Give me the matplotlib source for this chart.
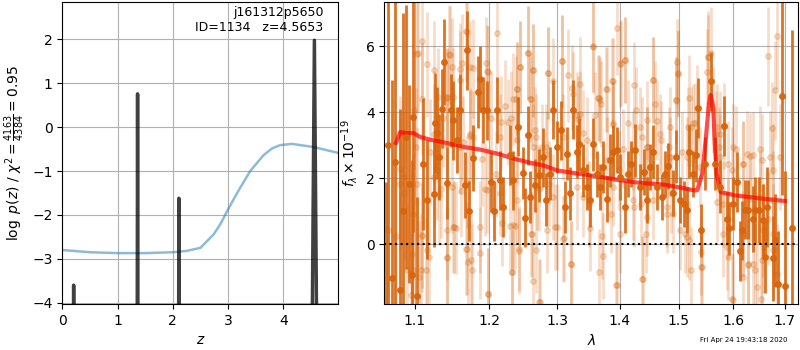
import matplotlib
matplotlib.use("Agg")
import matplotlib.pyplot as plt
from matplotlib.ticker import FixedLocator, FixedFormatter, NullLocator

# --- left panel: redshift fit ---
chi2_z = [0.0, 0.5, 1.0, 1.5, 2.0, 2.25, 2.5, 2.6, 2.74, 2.86, 3.0, 3.2, 3.4,
          3.64, 3.8, 3.94, 4.15, 4.54, 4.99]
chi2_logp = [-2.80, -2.85, -2.87, -2.87, -2.85, -2.82, -2.75, -2.62, -2.44, -2.21,
             -1.87, -1.42, -1.0, -0.64, -0.48, -0.41, -0.38, -0.45, -0.585]

pz_z = [0.200, 0.205, 0.210, 1.355, 1.362, 1.369, 2.104, 2.110, 2.117,
        4.520, 4.562, 4.605]
pz_logp = [-5.0, -3.6, -5.0, -5.0, 0.76, -5.0, -5.0, -1.62, -5.0,
           -5.0, 1.98, -5.0]

# --- right panel: spectrum ---
lam_dark = [1.0632, 1.0660, 1.0704, 1.0745, 1.0810, 1.0845, 1.0886, 1.0923, 1.0958,
            1.0980, 1.1024,
            1.1103, 1.1155, 1.1243, 1.1265, 1.1284, 1.1309, 1.1352, 1.1383, 1.1427,
            1.1477, 1.1509, 1.1555, 1.1601, 1.1669, 1.1692, 1.1728, 1.1783, 1.1851,
            1.1874, 1.1922, 1.1969, 1.2031, 1.2078, 1.2121, 1.2159, 1.2207, 1.2302,
            1.2349, 1.2423, 1.2487, 1.2522, 1.2571, 1.2596, 1.2670, 1.2734, 1.2793,
            1.2833, 1.2894, 1.2946, 1.2997, 1.3058, 1.3125, 1.3161, 1.3202, 1.3243,
            1.3305, 1.3346, 1.3410, 1.3463, 1.3517, 1.3570, 1.3624, 1.3677, 1.3731,
            1.3795, 1.3838, 1.3891, 1.3958, 1.4002, 1.4085, 1.4141, 1.4180, 1.4252,
            1.4335, 1.4402, 1.4446, 1.4504, 1.4562, 1.4631, 1.4706, 1.4764, 1.4822,
            1.4897, 1.4955, 1.5024, 1.5096, 1.5144, 1.5192, 1.5264, 1.5312, 1.5354,
            1.5396, 1.5474, 1.5577, 1.5656, 1.5750, 1.5825, 1.5875, 1.5925, 1.6000,
            1.6063, 1.6125, 1.6156, 1.6219, 1.6283, 1.6380, 1.6413, 1.6497, 1.6562,
            1.6608, 1.6653, 1.6757, 1.6803, 1.6868, 1.6935, 1.7000, 1.7135]
flux_dark = [-3.1, 3.0, -1.03, 2.5, -1.39, 1.0, 3.25, 1.84, -0.94,
             3.86, -1.58,
             2.44, 1.35, 1.52, 3.68, 3.37, 2.65, 4.11, 5.52, 1.86,
             4.06, 3.76, 3.15, 4.06, 1.79, 5.88, 1.01, 2.60, 4.62,
             5.02, 4.06, 4.06, 1.89, 1.01, 4.08, 1.94, 1.13, 2.70,
             1.94, 3.56, 2.16, 0.81, 3.30, 1.43, 1.79, 2.09, 2.63,
             1.35, 2.14, 4.08, 2.95, 3.45, 1.13, 2.75, 1.54, 4.08,
             2.80, 3.03, 2.24, 1.74, 1.33, 3.03, 2.14, 1.74, 2.34,
             1.38, 2.55, 2.80, 2.85, 2.04, 1.13, 2.14, 2.44, 2.85,
             1.74, 2.19, 1.33, 2.34, 2.80, 1.74, 1.43, 2.14, 2.37,
             1.55, 2.65, 1.33, 1.23, 1.03, 2.80, 2.14, 2.70, 4.13,
             0.42, 2.44, 4.94, 2.44, 1.74, 3.58, 0.78, 0.48, 1.23,
             1.89, -0.20, 0.42, 1.05, 1.05, 0.78, 1.03, 1.03, 0.73,
             -0.38, 1.13, -0.43, 0.12, -1.21, 4.48, -1.27, 0.5]
err_dark = [5.0, 6.0, 6.0, 6.0, 5.5, 6.0, 4.0, 3.0, 3.5,
            3.5, 3.0,
            2.0, 1.8, 1.6, 1.5, 1.4, 1.3, 1.2, 1.3, 1.1,
            1.1, 1.2, 1.0, 1.1, 1.0, 1.2, 0.9, 1.0, 1.1,
            1.0, 1.0, 0.9, 0.9, 0.9, 1.0, 0.9, 0.9, 0.9,
            0.9, 0.9, 0.8, 0.9, 0.9, 0.8, 0.8, 0.8, 0.9,
            0.8, 0.8, 0.9, 0.8, 0.9, 0.8, 0.8, 0.8, 0.9,
            0.8, 0.8, 0.8, 0.7, 0.8, 0.8, 0.7, 0.7, 0.8,
            0.7, 0.8, 0.8, 0.7, 0.7, 0.8, 0.7, 0.7, 0.8,
            0.7, 0.7, 0.7, 0.7, 0.8, 0.7, 0.7, 0.7, 0.7,
            0.7, 0.8, 0.7, 0.7, 0.7, 0.8, 0.7, 0.8, 0.9,
            0.8, 0.8, 0.9, 0.8, 0.8, 0.9, 0.8, 0.8, 0.8,
            0.9, 0.9, 0.9, 0.9, 0.9, 1.0, 1.0, 1.0, 1.1,
            1.1, 1.2, 1.3, 1.4, 1.6, 3.0, 3.5, 6.0]

lam_light = [1.0662, 1.0810, 1.0810, 1.0852, 1.0958, 1.0980, 1.0980, 1.1024, 1.1024,
             1.1046, 1.1089, 1.1089, 1.1155, 1.1199, 1.1243, 1.1309, 1.1418, 1.1418,
             1.1418, 1.1418, 1.1463, 1.1486, 1.1509, 1.1509, 1.1601, 1.1601, 1.1601,
             1.1692, 1.1692, 1.1692, 1.1737, 1.1737, 1.1746, 1.1783, 1.1874, 1.1874,
             1.1959, 1.1969, 1.1993, 1.1993, 1.2111, 1.2159, 1.2159, 1.2183, 1.2325,
             1.2349, 1.2383, 1.2398, 1.2398, 1.2398, 1.2438, 1.2448, 1.2571, 1.2596,
             1.2620, 1.2645, 1.2645, 1.2645, 1.2694, 1.2734, 1.2843, 1.2843, 1.2869,
             1.2936, 1.2946, 1.2971, 1.3084, 1.3089, 1.3099, 1.3217, 1.3228, 1.3243,
             1.3305, 1.3356, 1.3410, 1.3463, 1.3517, 1.3570, 1.3597, 1.3650, 1.3661,
             1.3677, 1.3773, 1.3875, 1.3891, 1.3891, 1.3947, 1.3958, 1.4002, 1.4013,
             1.4085, 1.4224, 1.4224, 1.4335, 1.4363, 1.4446, 1.4446, 1.4446, 1.4562,
             1.4562, 1.4677, 1.4793, 1.4851, 1.4851, 1.4909, 1.4949, 1.4996, 1.5024,
             1.5108, 1.5174, 1.5180, 1.5264, 1.5384, 1.5410, 1.5410, 1.5535, 1.5577,
             1.5625, 1.5687, 1.5750, 1.5750, 1.5813, 1.5813, 1.5906, 1.6000, 1.6000,
             1.6188, 1.6250, 1.6283, 1.6315, 1.6380, 1.6445, 1.6510, 1.6543, 1.6575,
             1.6660, 1.6705, 1.6770, 1.6770, 1.6770, 1.6803, 1.6836, 1.6836, 1.6900,
             # second pass
             1.0761, 1.0859, 1.0901, 1.0944, 1.0987, 1.1009, 1.1043, 1.1074, 1.1095,
             1.1095, 1.1139, 1.1160, 1.1183, 1.1249, 1.1249, 1.1292, 1.1302, 1.1338,
             1.1372, 1.1418, 1.1418, 1.1449, 1.1493, 1.1516, 1.1540, 1.1616, 1.1630,
             1.1639, 1.1676, 1.1684, 1.1708, 1.1735, 1.1767, 1.1781, 1.1906, 1.1944,
             1.1977, 1.1991, 1.2033, 1.2096, 1.2167, 1.2225, 1.2276, 1.2296, 1.2319,
             1.2325, 1.2348, 1.2373, 1.2407, 1.2432, 1.2446, 1.2569, 1.2604, 1.2613,
             1.2643, 1.2668, 1.2678, 1.2687, 1.2728, 1.2743, 1.2778, 1.2829, 1.2867,
             1.2877, 1.3004, 1.3082, 1.3108, 1.3175, 1.3212, 1.3304, 1.3329, 1.3356,
             1.3408, 1.3499, 1.3564, 1.3659, 1.3687, 1.3713, 1.3728, 1.3784, 1.3793,
             1.3849, 1.3886, 1.3891, 1.3939, 1.3984, 1.4000, 1.4056, 1.4084, 1.4128,
             1.4227, 1.4239, 1.4267, 1.4345, 1.4372, 1.4384, 1.4441, 1.4458, 1.4560,
             1.4584, 1.4629, 1.4687, 1.4800, 1.4830, 1.4860, 1.4949, 1.4977, 1.4994,
             1.5065, 1.5155, 1.5155, 1.5189, 1.5215, 1.5226, 1.5287, 1.5333, 1.5413,
             1.5515, 1.5527, 1.5669, 1.5697, 1.5729, 1.5822, 1.5883, 1.5896, 1.5902,
             1.5966, 1.5977, 1.6046, 1.6173, 1.6173, 1.6185, 1.6280, 1.6312, 1.6376,
             1.6410, 1.6517, 1.6536, 1.6548, 1.6568, 1.6668, 1.6735, 1.6767]
flux_light = [0.42, 2.29, 1.84, 2.04, -0.28, -0.79, 0.93, 5.78, 1.84,
              -0.99, 6.15, 0.27, -0.18, 2.80, 5.27, 1.48, 4.46, 3.05,
              0.42, -0.43, 5.73, 1.74, 4.46, 0.52, 4.97, 5.32, 2.95,
              6.43, 1.89, -0.13, 5.37, 3.35, -0.48, 3.25, 0.52, -0.26,
              5.50, 1.64, 5.22, -1.52, 6.41, 3.25, 1.54, 0.63, -0.84,
              0.58, 4.41, 4.72, 3.15, 1.33, -0.13, 5.37, 5.81, 4.41,
              0.32, 5.27, 2.95, -1.12, 1.74, -1.75, 2.75, 0.42, 5.19,
              4.95, 1.43, 0.52, 5.55, 0.17, 3.25, -0.59, 4.75, 4.54,
              1.74, 3.96, 1.43, 3.15, 0.48, 5.98, 3.91, 4.44, -0.84,
              4.36, 4.69, 4.94, 3.66, 1.74, -1.24, 6.54, 0.32, 5.50,
              5.58, 2.85, 1.33, 3.56, -1.04, 3.76, 2.95, 0.83, 4.97,
              1.33, 3.35, 1.13, 3.56, 2.65, 0.93, 4.38, 5.19, 0.42,
              0.32, 3.56, 0.12, 3.66, 2.34, -0.23, -0.69, 5.66, 5.80,
              4.06, 3.56, 3.35, 2.65, 1.23, 0.32, -0.38, 2.95, -1.70,
              2.44, 2.75, -0.62, 2.67, -0.59, -1.29, 1.43, -0.48, 0.42,
              5.70, 2.65, 2.24, 1.33, 0.32, 4.67, 6.30, -0.89, 2.65,
              # second pass
              0.24, 1.55, -0.77, -1.55, 4.08, 2.95, 5.80, -0.79, 4.41,
              0.24, -0.79, 5.45, -0.40, 3.35, 2.04, 2.24, 4.46, 1.69,
              3.84, 4.44, -0.40, 5.76, 5.37, 0.52, 0.49, 1.61, 5.49,
              3.10, -0.13, 6.45, -0.54, 3.27, -0.79, 5.34, 2.57, 1.66,
              5.24, -1.52, 3.84, 2.14, 3.71, 4.18, 3.71, 0.55, 3.84,
              -0.84, 4.41, 0.55, 4.72, -0.20, 5.37, 5.81, 4.41, 0.32,
              5.27, 3.47, -0.18, 3.25, 1.69, -1.75, 2.95, 2.95, 5.19,
              1.84, 0.52, 5.55, 0.20, 5.12, -0.59, 3.91, 3.81, 4.87,
              3.37, 1.23, 6.00, 4.44, 4.26, 0.24, -0.36, 4.69, 2.55,
              0.93, 3.61, 4.94, -1.24, 2.24, 5.47, 2.90, 5.58, 3.69,
              4.82, 1.13, 4.06, 1.23, 3.25, -1.04, 0.32, 2.95, 4.97,
              4.26, 3.74, 3.15, 0.93, 2.95, 1.54, 4.38, 5.52, 5.17,
              2.80, 2.65, 0.22, 4.44, 3.56, -0.79, 3.68, 4.14, -0.69,
              5.22, 5.66, 3.35, 1.28, 2.95, 3.58, -0.08, 0.78, 2.44,
              2.24, -1.65, 2.90, 2.44, -0.99, 0.32, -0.59, 1.38, 2.70,
              -0.79, 2.90, -1.65, 2.55, -0.08, 0.78, 3.52, -0.16]
err_light = [2.5, 2.2, 2.0, 2.0, 1.8, 1.8, 1.8, 1.8, 1.7,
             1.7, 1.7, 1.6, 1.6, 1.6, 1.5, 1.5, 1.5, 1.5,
             1.5, 1.5, 1.5, 1.4, 1.5, 1.4, 1.5, 1.4, 1.4,
             1.5, 1.4, 1.4, 1.4, 1.4, 1.4, 1.4, 1.4, 1.4,
             1.4, 1.3, 1.4, 1.4, 1.5, 1.3, 1.3, 1.3, 1.3,
             1.3, 1.3, 1.4, 1.3, 1.3, 1.3, 1.4, 1.4, 1.3,
             1.3, 1.4, 1.3, 1.3, 1.3, 1.3, 1.3, 1.3, 1.4,
             1.3, 1.3, 1.3, 1.4, 1.3, 1.3, 1.3, 1.3, 1.3,
             1.3, 1.3, 1.2, 1.3, 1.3, 1.4, 1.3, 1.3, 1.3,
             1.3, 1.3, 1.3, 1.3, 1.2, 1.3, 1.4, 1.2, 1.3,
             1.3, 1.2, 1.2, 1.2, 1.3, 1.2, 1.2, 1.2, 1.3,
             1.2, 1.2, 1.2, 1.2, 1.2, 1.2, 1.3, 1.3, 1.2,
             1.2, 1.2, 1.2, 1.2, 1.2, 1.3, 1.3, 1.4, 1.4,
             1.3, 1.3, 1.3, 1.3, 1.3, 1.3, 1.3, 1.3, 1.4,
             1.3, 1.3, 1.4, 1.3, 1.4, 1.4, 1.4, 1.4, 1.4,
             1.5, 1.4, 1.4, 1.5, 1.5, 1.5, 1.6, 1.5, 1.6,
             # second pass
             2.2, 2.0, 2.0, 1.9, 1.8, 1.8, 1.8, 1.7, 1.7,
             1.7, 1.6, 1.6, 1.6, 1.5, 1.5, 1.5, 1.5, 1.5,
             1.5, 1.5, 1.5, 1.5, 1.5, 1.4, 1.4, 1.4, 1.5,
             1.4, 1.4, 1.5, 1.4, 1.4, 1.4, 1.5, 1.4, 1.4,
             1.4, 1.4, 1.4, 1.3, 1.4, 1.4, 1.3, 1.3, 1.4,
             1.3, 1.4, 1.3, 1.4, 1.3, 1.4, 1.4, 1.4, 1.3,
             1.4, 1.3, 1.3, 1.3, 1.3, 1.3, 1.3, 1.3, 1.4,
             1.3, 1.3, 1.4, 1.3, 1.4, 1.3, 1.3, 1.3, 1.4,
             1.3, 1.3, 1.4, 1.3, 1.3, 1.3, 1.3, 1.3, 1.3,
             1.2, 1.3, 1.3, 1.3, 1.2, 1.3, 1.2, 1.3, 1.3,
             1.3, 1.2, 1.3, 1.2, 1.2, 1.3, 1.2, 1.2, 1.3,
             1.3, 1.2, 1.2, 1.2, 1.2, 1.2, 1.3, 1.3, 1.3,
             1.2, 1.2, 1.2, 1.3, 1.2, 1.3, 1.2, 1.3, 1.2,
             1.3, 1.3, 1.3, 1.2, 1.2, 1.3, 1.3, 1.2, 1.3,
             1.3, 1.4, 1.3, 1.3, 1.4, 1.3, 1.4, 1.3, 1.3,
             1.4, 1.3, 1.5, 1.4, 1.4, 1.4, 1.4, 1.5]

lam_model = [1.0757, 1.0810, 1.0873, 1.0980, 1.1068, 1.1199, 1.1418, 1.1646, 1.1874,
             1.2111, 1.2349, 1.2596, 1.2793, 1.2997, 1.3253, 1.3624, 1.4002, 1.4335,
             1.4735, 1.5024, 1.5294, 1.5333, 1.5424, 1.5486, 1.5546, 1.5577, 1.5624,
             1.5651, 1.5687, 1.5761, 1.6043, 1.6575, 1.7000]
flux_model = [3.07, 3.40, 3.37, 3.37, 3.25, 3.17, 3.07, 2.95, 2.87,
              2.75, 2.60, 2.47, 2.39, 2.24, 2.16, 2.06, 1.94, 1.86,
              1.81, 1.72, 1.63, 1.64, 2.14, 3.15, 4.26, 4.52, 4.16,
              3.15, 2.14, 1.58, 1.48, 1.38, 1.31]

lam_ticks = [1.1, 1.2, 1.3, 1.4, 1.5, 1.6, 1.7]
orange = "#d8650c"

fig = plt.figure(figsize=(8, 3.5), dpi=100)
ax1 = fig.add_axes([0.0779, 0.1314, 0.345, 0.8637])
ax2 = fig.add_axes([0.4804, 0.1314, 0.5175, 0.8637])

ax1.plot(chi2_z, chi2_logp, color="tab:blue", alpha=0.5, lw=1.8)
ax1.plot(pz_z, pz_logp, color="k", alpha=0.75, lw=2.5)
ax1.set_xlim(0, 4.995)
ax1.set_ylim(-4.03, 2.86)
ax1.set_xticks([0, 1, 2, 3, 4])
ax1.set_yticks([-4, -3, -2, -1, 0, 1, 2])
ax1.grid(True)
ax1.set_xlabel("$z$")
ax1.set_ylabel(r"$\log\ p(z)$ / $\chi^2=\frac{4163}{4384}=0.95$")
ax1.text(0.946, 0.985, "j161312p5650\nID=1134   z=4.5653", transform=ax1.transAxes,
         ha="right", va="top", fontsize=9)

ax2.errorbar(lam_light, flux_light, yerr=err_light, fmt="o", color=orange,
             alpha=0.22, ms=4, elinewidth=2, capsize=0)
ax2.errorbar(lam_dark, flux_dark, yerr=err_dark, fmt="o", color=orange,
             alpha=0.9, ms=4, elinewidth=2, capsize=0)
ax2.plot(lam_model, flux_model, color="r", alpha=0.7, lw=3)
ax2.axhline(0, color="k", ls=":", lw=1.5)
ax2.set_xscale("log")
ax2.set_xlim(1.061, 1.727)
ax2.set_ylim(-1.81, 7.35)
ax2.xaxis.set_major_locator(FixedLocator(lam_ticks))
ax2.xaxis.set_major_formatter(FixedFormatter([str(t) for t in lam_ticks]))
ax2.xaxis.set_minor_locator(NullLocator())
ax2.set_yticks([0, 2, 4, 6])
ax2.grid(True)
ax2.set_xlabel(r"$\lambda$")
ax2.set_ylabel(r"$f_\lambda\times10^{-19}$")

fig.text(0.985, 0.02, "Fri Apr 24 19:43:18 2020", ha="right", va="bottom", fontsize=5)

fig.savefig("out.png", dpi=100)
